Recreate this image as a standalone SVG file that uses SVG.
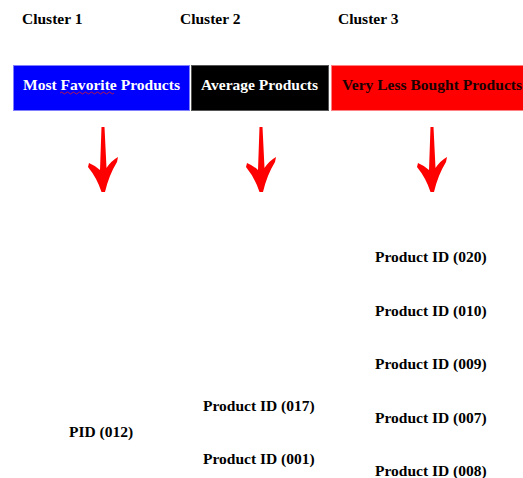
<svg xmlns="http://www.w3.org/2000/svg" width="523" height="478" viewBox="0 0 523 478">
<style>
text{font-family:"Liberation Serif","Times New Roman",serif;font-weight:bold;font-size:15.5px;fill:#000}
.w{fill:#fff}
.lab{fill:#1a0000}
.arrow{fill:#f00}
</style>
<defs>
<path id="arr" d="M-1.5,127 L1.5,127 L3.5,168 Q8,161 15,157 L14,162 Q6,175 2,192 L-1.5,192 Q-6,178 -15,167 L-14,163 Q-7,166 -3,170 Z"/>
</defs>
<rect width="523" height="478" fill="#fff"/>
<g id="cluster-titles">
<text x="22" y="24">Cluster 1</text>
<text x="180" y="24">Cluster 2</text>
<text x="338" y="24">Cluster 3</text>
</g>
<g id="node-most-favorite">
<rect x="13.5" y="65.5" width="176" height="45" fill="#0000ff" stroke="#8080ff"/>
<text class="w" x="23" y="90" textLength="157" lengthAdjust="spacingAndGlyphs">Most Favorite Products</text>
<path d="M60,93 q1.5,-2 3,0 t3,0 t3,0 t3,0 t3,0 t3,0 t3,0 t3,0 t3,0 t3,0 t3,0 t3,0 t3,0 t3,0 t3,0 t3,0 t3,0 t3,0" fill="none" stroke="#e02020" stroke-width="0.8"/>
</g>
<g id="node-average">
<rect x="191.5" y="65.5" width="137" height="45" fill="#000" stroke="#555"/>
<text class="w" x="201" y="90" textLength="117" lengthAdjust="spacingAndGlyphs">Average Products</text>
</g>
<g id="node-very-less">
<rect x="331.5" y="65.5" width="192" height="45" fill="#ff0000" stroke="#ff8080"/>
<text class="lab" x="342" y="90" textLength="180" lengthAdjust="spacingAndGlyphs">Very Less Bought Products</text>
</g>
<g id="connectors">
<use href="#arr" class="arrow" transform="translate(103,0)"/>
<use href="#arr" class="arrow" transform="translate(261,0)"/>
<use href="#arr" class="arrow" transform="translate(432,0)"/>
</g>
<g id="cluster1-items">
<text x="69" y="437">PID (012)</text>
</g>
<g id="cluster2-items">
<text x="203" y="411">Product ID (017)</text>
<text x="203" y="464">Product ID (001)</text>
</g>
<g id="cluster3-items">
<text x="375" y="262">Product ID (020)</text>
<text x="375" y="316">Product ID (010)</text>
<text x="375" y="369">Product ID (009)</text>
<text x="375" y="423">Product ID (007)</text>
<text x="375" y="476">Product ID (008)</text>
</g>
</svg>
